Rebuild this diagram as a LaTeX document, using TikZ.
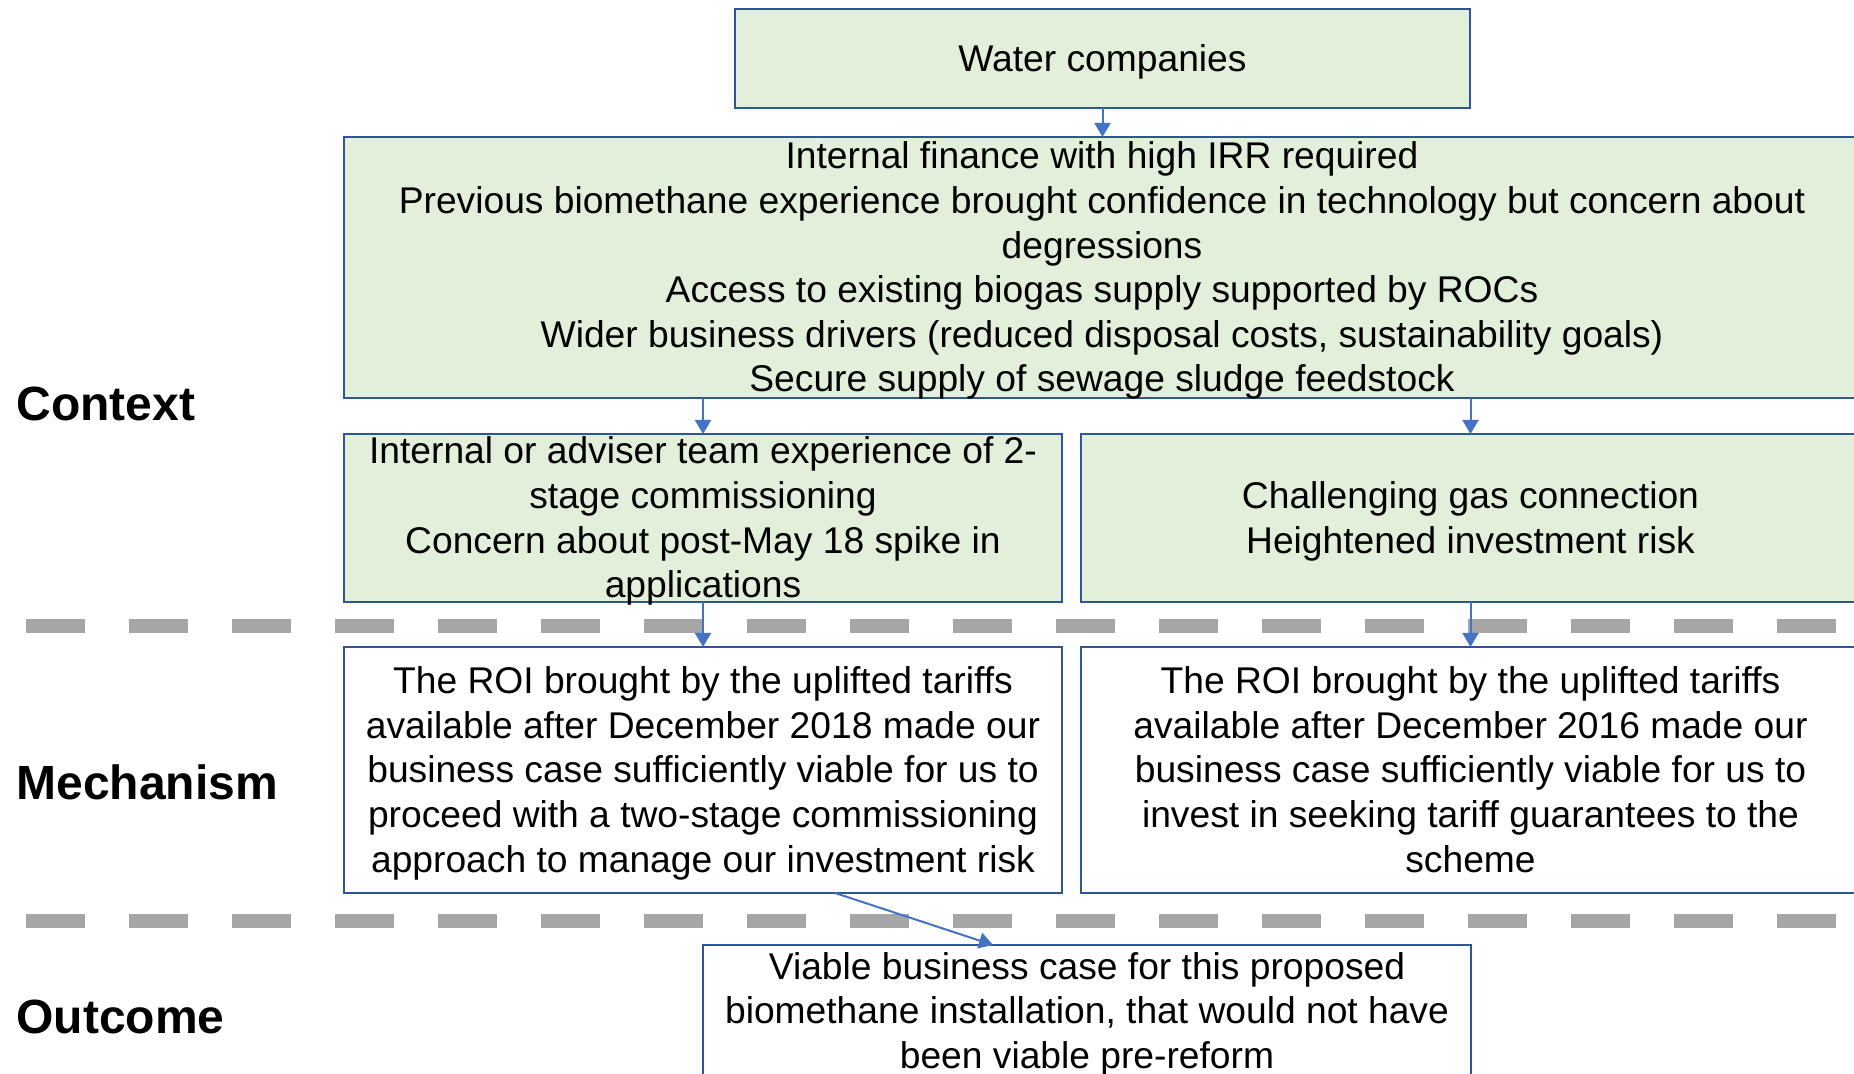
\documentclass[tikz,border=0pt]{standalone}
\usepackage{fontspec}
\setmainfont{Liberation Sans}
\usetikzlibrary{arrows.meta}
\definecolor{boxgreen}{HTML}{E2EFDA}
\definecolor{boxblue}{HTML}{2F5597}
\definecolor{arrblue}{HTML}{4472C4}
\definecolor{sepgray}{HTML}{A6A6A6}
\tikzset{
  cmobox/.style={draw=boxblue,line width=1.3pt,align=flush center,inner sep=0pt,outer sep=0pt,
    font=\fontsize{18.6pt}{22.3pt}\selectfont,
    execute at begin node=\rule{0pt}{16.8pt},
    execute at end node=\rule[-3.95pt]{0pt}{0pt}},
  ctxbox/.style={cmobox,fill=boxgreen},
  arr/.style={line width=1pt,arrblue,-{Triangle[width=8pt,length=7pt]}},
  sep/.style={line width=7pt,sepgray,dash pattern=on 29.5pt off 22pt},
  rowlabel/.style={anchor=west,inner sep=0pt,font=\fontsize{24pt}{28pt}\selectfont\bfseries}
}
\begin{document}
\begin{tikzpicture}[x=0.5pt,y=-0.5pt]
\useasboundingbox (0,0) rectangle (1854,1074);
\clip (0,0) rectangle (1854,1074);

\draw[sep] (26,626) -- (1836,626);
\draw[sep] (26,921) -- (1836,921);

 \node[rowlabel] at (16,404) (context) {Context};
 \node[rowlabel] at (16,782) (mechanism) {Mechanism};
 \node[rowlabel] at (16,1017) (outcome) {Outcome};

 \node[ctxbox,text width=367.5pt,minimum height=49.5pt] at (1102.5,58.5) (water) {Water companies};
 \node[ctxbox,text width=758pt,minimum height=130.5pt,inner ysep=-0.9pt] at (1102,267.5) (big)
   {Internal finance with high IRR required\\
    Previous biomethane experience brought confidence in technology but concern about\\
    degressions\\
    Access to existing biogas supply supported by ROCs\\
    Wider business drivers (reduced disposal costs, sustainability goals)\\
    Secure supply of sewage sludge feedstock};
 \node[ctxbox,text width=359pt,minimum height=84pt,inner ysep=-1.85pt] at (703,518) (lctx)
   {Internal or adviser team experience of 2-\\stage commissioning\\
    Concern about post-May 18 spike in\\applications};
 \node[ctxbox,text width=389.5pt,minimum height=84pt] at (1470.5,518) (rctx)
   {Challenging gas connection\\Heightened investment risk};

 \node[cmobox,text width=359pt,minimum height=123pt] at (703,770) (lmech)
   {The ROI brought by the uplifted tariffs\\
    available after December 2018 made our\\
    business case sufficiently viable for us to\\
    proceed with a two-stage commissioning\\
    approach to manage our investment risk};
 \node[cmobox,text width=389.5pt,minimum height=123pt] at (1470.5,770) (rmech)
   {The ROI brought by the uplifted tariffs\\
    available after December 2016 made our\\
    business case sufficiently viable for us to\\
    invest in seeking tariff guarantees to the\\
    scheme};

 \node[cmobox,text width=384pt,minimum height=66pt] at (1087,1011) (result)
   {Viable business case for this proposed\\
    biomethane installation, that would not have\\
    been viable pre-reform};

\draw[arr] (water.south) -- (big.north -| water.south);
\draw[arr] (lctx.north |- big.south) -- (lctx.north);
\draw[arr] (rctx.north |- big.south) -- (rctx.north);
\draw[arr] (lctx.south) -- (lmech.north);
\draw[arr] (rctx.south) -- (rmech.north);
\draw[arr] ([xshift=66pt]lmech.south) -- ([xshift=-47pt]result.north);
\end{tikzpicture}
\end{document}
